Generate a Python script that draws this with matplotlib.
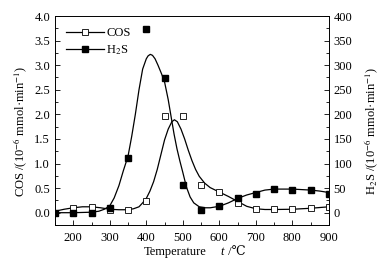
import matplotlib
matplotlib.use("Agg")
import matplotlib.pyplot as plt
from matplotlib.lines import Line2D
from matplotlib.ticker import MultipleLocator

plt.rcParams['font.family'] = ['Liberation Serif', 'DejaVu Serif']
plt.rcParams['mathtext.fontset'] = 'stix'
plt.rcParams['font.size'] = 9

# measured points
temp = [150, 200, 250, 300, 350, 400, 450, 500, 550, 600, 650, 700, 750, 800, 850, 900]
cos_pts = [0.0, 0.10, 0.12, 0.05, 0.06, 0.24, 1.96, 1.96, 0.57, 0.42, 0.19, 0.08, 0.08, 0.08, 0.09, 0.11]
h2s_pts = [0, 0, 0, 9, 111, 374, 274, 57, 6, 13, 30, 39, 49, 46, 46, 39]

# fitted curves
cos_fit_t = [150, 175, 200, 225, 250, 275, 300, 325, 350, 365, 380, 390, 400, 410, 420, 430,
             440, 450, 460, 470, 477, 485, 495, 505, 515, 525, 535, 545, 560, 575, 600, 625,
             650, 675, 700, 725, 750, 800, 850, 900]
cos_fit = [0.03, 0.07, 0.10, 0.12, 0.12, 0.10, 0.07, 0.06, 0.06, 0.08, 0.12, 0.20, 0.29, 0.44,
           0.63, 0.88, 1.18, 1.48, 1.70, 1.85, 1.89, 1.85, 1.70, 1.50, 1.27, 1.06, 0.88, 0.74,
           0.60, 0.51, 0.42, 0.33, 0.23, 0.13, 0.08, 0.065, 0.065, 0.07, 0.09, 0.12]
h2s_fit_t = [150, 200, 250, 270, 285, 300, 312, 325, 337, 350, 360, 370, 380, 390, 400, 405,
             411, 417, 424, 432, 442, 450, 460, 468, 476, 484, 492, 500, 510, 520, 530, 545,
             560, 575, 600, 625, 650, 675, 700, 725, 750, 800, 850, 875, 900]
h2s_fit = [0, 0, 1, 3, 7, 14, 30, 55, 85, 115, 155, 200, 250, 292, 313, 319,
           322, 320, 313, 300, 282, 266, 230, 195, 160, 130, 105, 82, 52, 32, 20, 12,
           10, 10, 13, 20, 29, 36, 41, 46, 48, 48, 46, 44, 41]

fig = plt.figure(figsize=(3.86, 2.70), dpi=100)
ax = fig.add_axes([0.1425, 0.1667, 0.7095, 0.774])
ax2 = ax.twinx()

ax.plot(cos_fit_t, cos_fit, color='black', lw=0.9)
ax.plot(temp, cos_pts, ls='none', marker='s', ms=4, mfc='white', mec='black', mew=0.6)
ax2.plot(h2s_fit_t, h2s_fit, color='black', lw=0.9)
ax2.plot(temp, h2s_pts, ls='none', marker='s', ms=4, mfc='black', mec='black')

ax.set_xlim(150, 900)
ax.set_ylim(-0.25, 4.0)
ax2.set_ylim(-25, 400)

ax.xaxis.set_major_locator(MultipleLocator(100))
ax.xaxis.set_minor_locator(MultipleLocator(50))
ax.yaxis.set_major_locator(MultipleLocator(0.5))
ax.yaxis.set_minor_locator(MultipleLocator(0.25))
ax2.yaxis.set_major_locator(MultipleLocator(50))
ax2.yaxis.set_minor_locator(MultipleLocator(25))
ax.set_xticks([200, 300, 400, 500, 600, 700, 800, 900])
ax.set_yticks([0.0, 0.5, 1.0, 1.5, 2.0, 2.5, 3.0, 3.5, 4.0])
ax.set_yticklabels(['0.0', '0.5', '1.0', '1.5', '2.0', '2.5', '3.0', '3.5', '4.0'])
ax2.set_yticks([0, 50, 100, 150, 200, 250, 300, 350, 400])

for a in (ax, ax2):
    a.tick_params(which='both', direction='in', width=0.6, labelsize=9)
    a.tick_params(which='major', length=3.5)
    a.tick_params(which='minor', length=2)
    for s in a.spines.values():
        s.set_linewidth(0.6)
ax.tick_params(axis='x', pad=5)

# x label in pieces: plain word, italic t, degree sign
ax.text(0.438, -0.13, 'Temperature', transform=ax.transAxes, ha='center', va='center', fontsize=9)
ax.text(0.612, -0.13, 't', transform=ax.transAxes, ha='center', va='center', fontsize=9,
        style='italic')
ax.text(0.622, -0.13, ' /℃', transform=ax.transAxes, ha='left', va='center', fontsize=9)
ax.set_ylabel('COS /(10$^{-6}$ mmol·min$^{-1}$)', fontsize=9)
ax2.set_ylabel('H$_2$S /(10$^{-6}$ mmol·min$^{-1}$)', fontsize=9)
ax.yaxis.set_label_coords(-0.09, 0.45)
ax2.yaxis.set_label_coords(1.125, 0.45)

handles = [
    Line2D([], [], color='black', lw=0.9, marker='s', ms=4, mfc='white', mec='black', mew=0.6),
    Line2D([], [], color='black', lw=0.9, marker='s', ms=4, mfc='black', mec='black'),
]
ax.legend(handles, ['COS', 'H$_2$S'], loc='upper left', frameon=False, fontsize=9,
          handlelength=3.0, handletextpad=0.2, borderaxespad=0.5, labelspacing=0.3)

fig.savefig('out.png', dpi=100)
